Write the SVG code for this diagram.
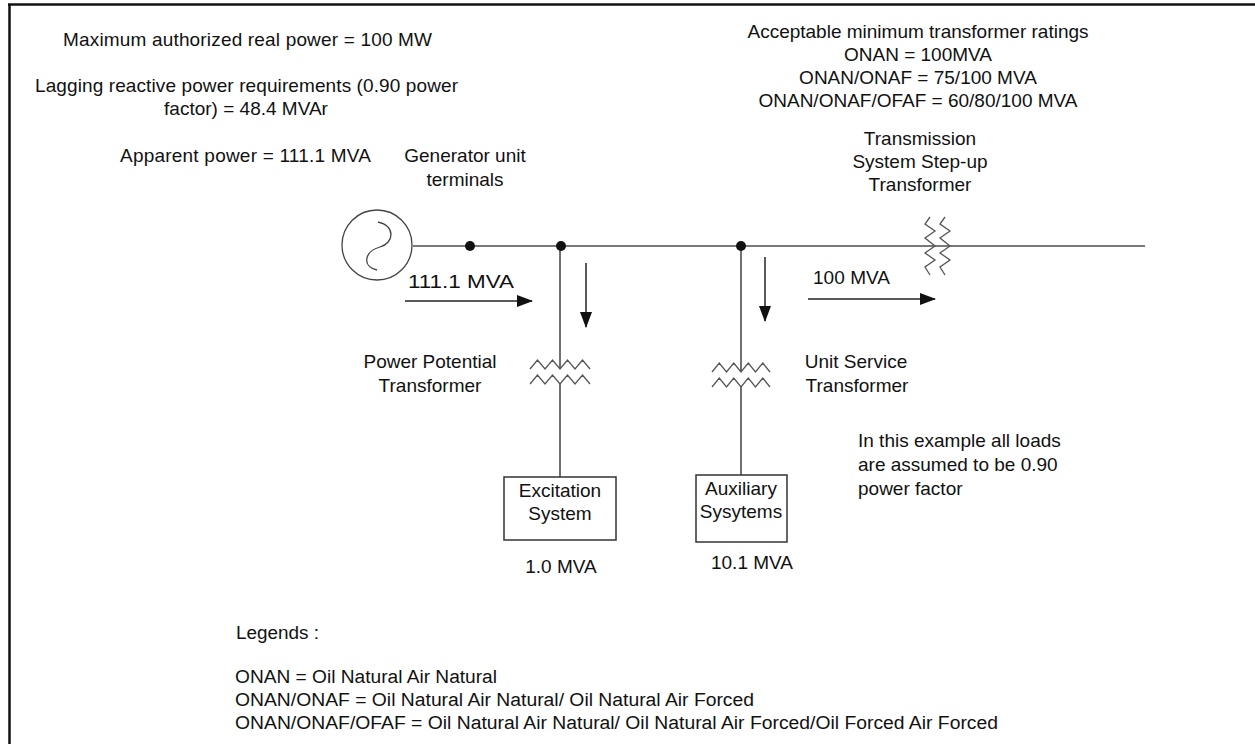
<svg xmlns="http://www.w3.org/2000/svg" width="1255" height="744" viewBox="0 0 1255 744">
<style>
text{font-family:"Liberation Sans",Arial,sans-serif;font-size:19px;fill:#111}
.c{text-anchor:middle}
.lg{font-size:18px}
.w{fill:none;stroke:#4d4d4d;stroke-width:1.6}
.z{fill:none;stroke:#555;stroke-width:1.3}
.box{fill:#fff;stroke:#333;stroke-width:1.5}
.dot{fill:#111}
.ar{stroke:#222;stroke-width:1.5;fill:none}
</style>
<defs>
<marker id="ah" markerWidth="16" markerHeight="12" refX="15" refY="6" orient="auto" markerUnits="userSpaceOnUse">
<path d="M0,0 L16,6 L0,12 Z" fill="#111"/>
</marker>
</defs>
<rect width="1255" height="744" fill="#fff"/>
<g id="frame">
<line x1="8" y1="4.5" x2="1255" y2="4.5" stroke="#111" stroke-width="2.5"/>
<line x1="9.5" y1="4" x2="9.5" y2="744" stroke="#111" stroke-width="2.5"/>
</g>
<g id="connectors">
<line class="w" x1="413" y1="246" x2="1145" y2="246"/>
<line class="w" x1="560" y1="246" x2="560" y2="369"/>
<line class="w" x1="560" y1="384" x2="560" y2="477"/>
<line class="w" x1="741" y1="246" x2="741" y2="372"/>
<line class="w" x1="741" y1="387" x2="741" y2="475"/>
<line class="ar" x1="405" y1="301" x2="532" y2="301" marker-end="url(#ah)"/>
<line class="ar" x1="808" y1="299" x2="935" y2="299" marker-end="url(#ah)"/>
<line class="ar" x1="586" y1="263" x2="586" y2="327" marker-end="url(#ah)"/>
<line class="ar" x1="765" y1="257" x2="765" y2="321" marker-end="url(#ah)"/>
<circle class="dot" cx="470" cy="246" r="5"/>
<circle class="dot" cx="561" cy="246" r="5"/>
<circle class="dot" cx="741" cy="246" r="5"/>
</g>
<g id="generator">
<circle cx="377" cy="245" r="35" fill="#fff" stroke="#444" stroke-width="1.3"/>
<path d="M378,222 C396,226 394,243 380,247 C365,251 361,266 377,270" fill="none" stroke="#444" stroke-width="1.3"/>
<text class="c" x="465" y="162">Generator unit</text>
<text class="c" x="465" y="186">terminals</text>
</g>
<g id="step-up-transformer">
<polyline class="z" points="930,217 925,224 935,231 925,238 935,246 925,253 935,260 925,267 930,275"/>
<polyline class="z" points="945,217 940,224 950,231 940,238 950,246 940,253 950,260 940,267 945,275"/>
<text class="c" x="920" y="145">Transmission</text>
<text class="c" x="920" y="168">System Step-up</text>
<text class="c" x="920" y="191">Transformer</text>
</g>
<g id="power-potential-transformer">
<polyline class="z" points="530,369 537.5,360 545,369 552.5,360 560,369 567.5,360 575,369 582.5,360 590,369"/>
<polyline class="z" points="530,384 537.5,375 545,384 552.5,375 560,384 567.5,375 575,384 582.5,375 590,384"/>
<text class="c" x="430" y="368">Power Potential</text>
<text class="c" x="430" y="392">Transformer</text>
</g>
<g id="unit-service-transformer">
<polyline class="z" points="712,372 719.25,363 726.5,372 733.75,363 741,372 748.25,363 755.5,372 762.75,363 770,372"/>
<polyline class="z" points="712,387 719.25,378 726.5,387 733.75,378 741,387 748.25,378 755.5,387 762.75,378 770,387"/>
<text class="c" x="856" y="368">Unit Service</text>
<text class="c" x="857" y="392">Transformer</text>
</g>
<g id="excitation-system">
<rect class="box" x="504" y="477" width="112" height="63"/>
<text class="c" x="560" y="497">Excitation</text>
<text class="c" x="560" y="520">System</text>
<text class="c" x="561" y="573">1.0 MVA</text>
</g>
<g id="auxiliary-systems">
<rect class="box" x="696" y="475" width="91" height="67"/>
<text class="c" x="741" y="495">Auxiliary</text>
<text class="c" x="741" y="518">Sysytems</text>
<text class="c" x="752" y="569">10.1 MVA</text>
</g>
<g id="flow-labels">
<text x="408" y="288" textLength="106" lengthAdjust="spacingAndGlyphs">111.1 MVA</text>
<text x="813" y="284" textLength="77" lengthAdjust="spacing">100 MVA</text>
</g>
<g id="notes">
<text x="63" y="46" textLength="369" lengthAdjust="spacing">Maximum authorized real power = 100 MW</text>
<text x="35" y="92" textLength="423" lengthAdjust="spacing">Lagging reactive power requirements (0.90 power</text>
<text class="c" x="246" y="115">factor) = 48.4 MVAr</text>
<text x="120" y="162" textLength="251" lengthAdjust="spacing">Apparent power = 111.1 MVA</text>
<text class="c" x="918" y="38">Acceptable minimum transformer ratings</text>
<text class="c" x="918" y="61">ONAN = 100MVA</text>
<text class="c" x="918" y="84">ONAN/ONAF = 75/100 MVA</text>
<text class="c" x="918" y="107">ONAN/ONAF/OFAF = 60/80/100 MVA</text>
<text x="858" y="447">In this example all loads</text>
<text x="858" y="471">are assumed to be 0.90</text>
<text x="858" y="495">power factor</text>
</g>
<g id="legend">
<text class="lg" x="236" y="639" textLength="83" lengthAdjust="spacingAndGlyphs">Legends :</text>
<text class="lg" x="235" y="683" textLength="262" lengthAdjust="spacingAndGlyphs">ONAN = Oil Natural Air Natural</text>
<text class="lg" x="235" y="706" textLength="519" lengthAdjust="spacingAndGlyphs">ONAN/ONAF = Oil Natural Air Natural/ Oil Natural Air Forced</text>
<text class="lg" x="235" y="729" textLength="763" lengthAdjust="spacingAndGlyphs">ONAN/ONAF/OFAF = Oil Natural Air Natural/ Oil Natural Air Forced/Oil Forced Air Forced</text>
</g>
</svg>
